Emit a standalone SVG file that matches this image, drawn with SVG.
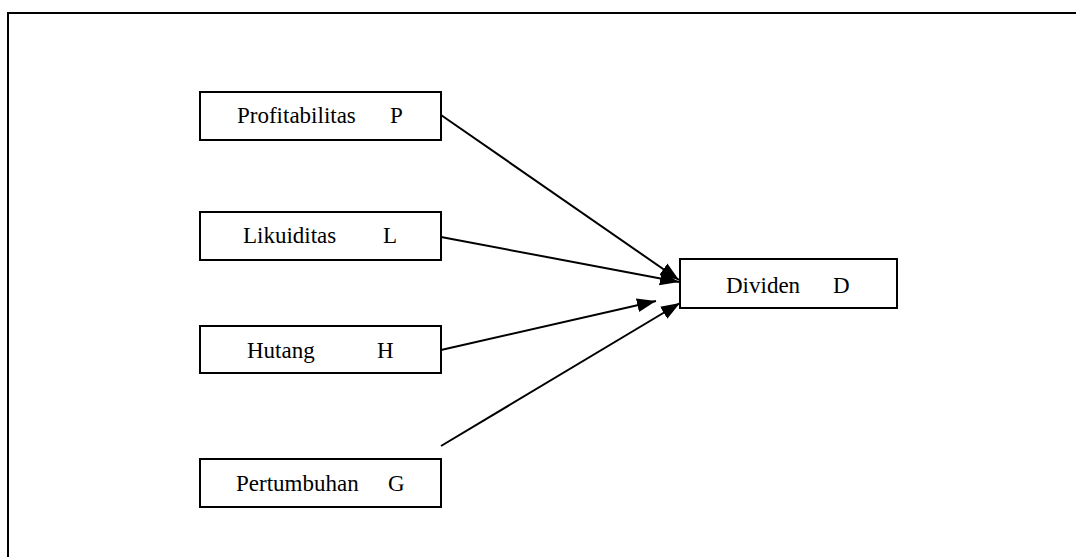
<svg xmlns="http://www.w3.org/2000/svg" width="1076" height="557" viewBox="0 0 1076 557">
<style>
.box{fill:#fff;stroke:#000;stroke-width:2}
.frame{fill:none;stroke:#000;stroke-width:2}
.lbl{font-family:"Liberation Serif","Times New Roman",serif;font-size:23px;fill:#000}
.conn{stroke:#000;stroke-width:2;fill:none}
</style>
<defs>
<marker id="ah" markerUnits="userSpaceOnUse" markerWidth="22" markerHeight="16" refX="19" refY="8" orient="auto">
<path d="M0,1 L19,8 L0,15 Z" fill="#000"/>
</marker>
</defs>
<rect class="frame" x="8" y="13" width="1080" height="560"/>
<g id="node-p"><rect class="box" x="200" y="92" width="241" height="48"/><text class="lbl" y="123"><tspan x="237">Profitabilitas</tspan><tspan x="390">P</tspan></text></g>
<g id="node-l"><rect class="box" x="200" y="212" width="241" height="48"/><text class="lbl" y="243"><tspan x="243">Likuiditas</tspan><tspan x="383">L</tspan></text></g>
<g id="node-h"><rect class="box" x="200" y="326" width="241" height="47"/><text class="lbl" y="358"><tspan x="247">Hutang</tspan><tspan x="377">H</tspan></text></g>
<g id="node-g"><rect class="box" x="200" y="459" width="241" height="48"/><text class="lbl" y="491"><tspan x="236">Pertumbuhan</tspan><tspan x="388">G</tspan></text></g>
<g id="node-d"><rect class="box" x="680" y="259" width="217" height="49"/><text class="lbl" y="293"><tspan x="726">Dividen</tspan><tspan x="833">D</tspan></text></g>
<g id="connectors">
<line class="conn" x1="441" y1="115" x2="679" y2="280" marker-end="url(#ah)"/>
<line class="conn" x1="441" y1="237" x2="679" y2="282" marker-end="url(#ah)"/>
<line class="conn" x1="441" y1="350" x2="656" y2="301" marker-end="url(#ah)"/>
<line class="conn" x1="441" y1="446" x2="680" y2="303" marker-end="url(#ah)"/>
</g>
</svg>
